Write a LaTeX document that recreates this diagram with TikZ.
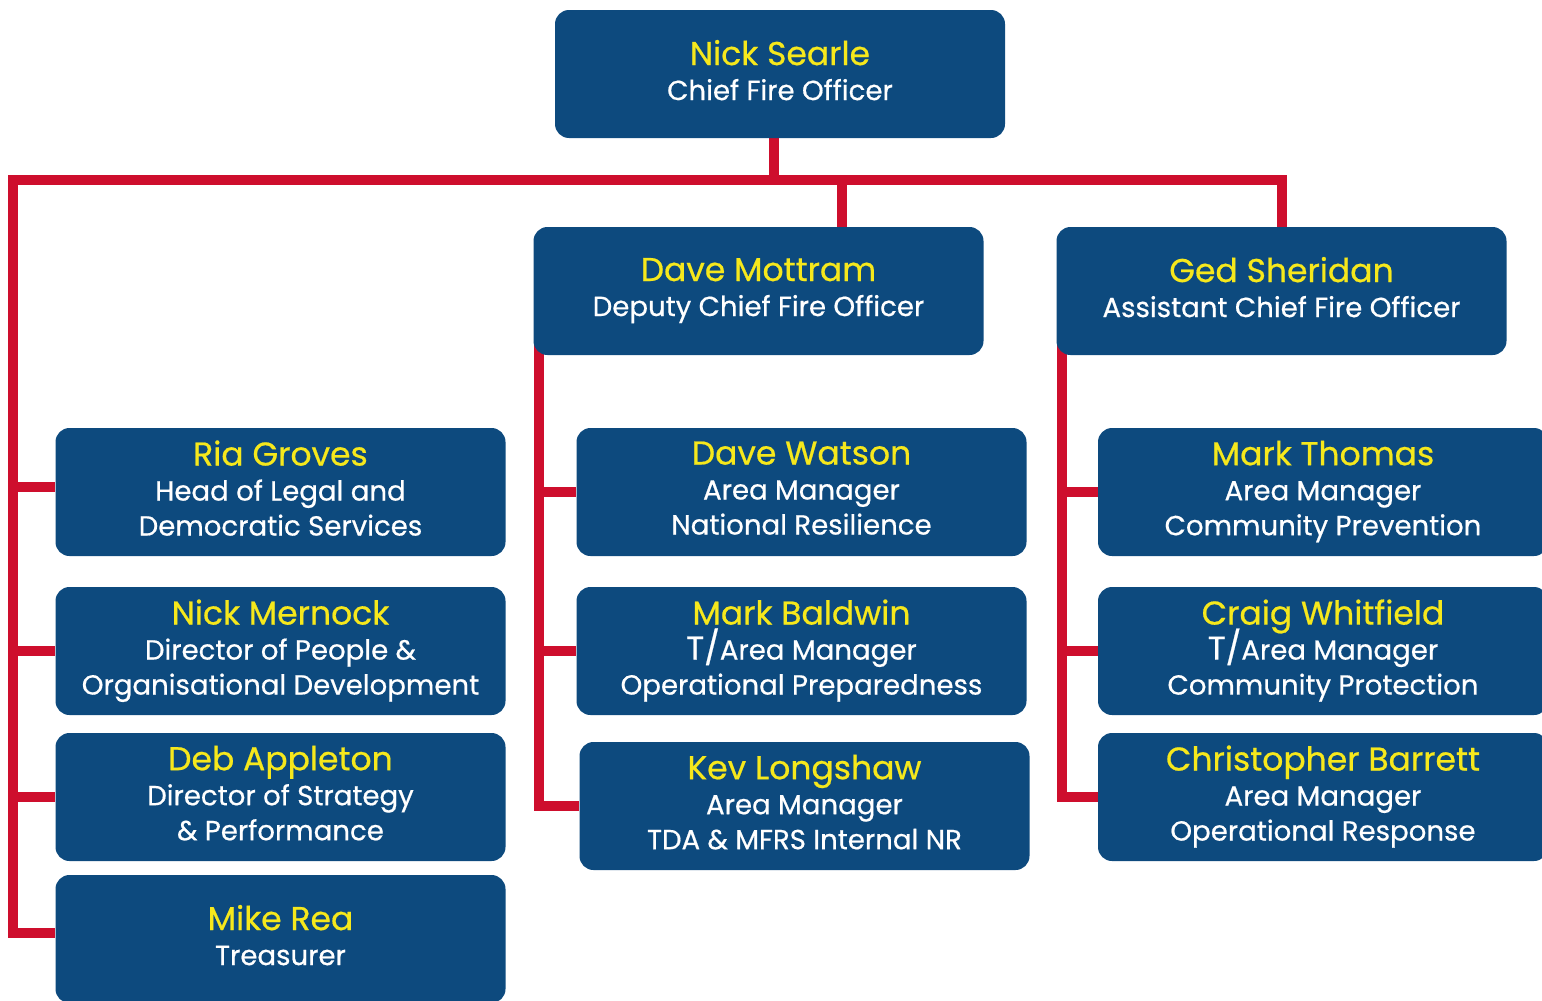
\documentclass[tikz,border=0pt]{standalone}
\usepackage{fontspec}
\setmainfont{Poppins}[FakeBold=0.6]
\usetikzlibrary{backgrounds}

\definecolor{postblue}{RGB}{13,74,126}
\definecolor{linkred}{RGB}{206,14,45}
\definecolor{nameyellow}{RGB}{246,232,28}

\newcommand{\who}[2]{{\color{nameyellow}\fontsize{16.5}{17.5}\selectfont #1}\\#2}
\newcommand{\acting}{{\fontsize{16.5}{17.5}\selectfont\smash{T/}}}

\begin{document}
\begin{tikzpicture}[x = 0.5pt, y = -0.5pt,
								post/.style = {rectangle, rounded corners = 7pt, fill = 
								postblue, text = white, inner sep = 0pt, align = center,
								minimum width = 225pt, minimum height = 64pt, text depth = 4pt,
								font = \fontsize{13.8}{17.5}\selectfont},
								link/.style = {draw = linkred, line width = 5pt, line join = miter}]

				\useasboundingbox (0,0) rectangle (1542,1001);

				\node [post] (c_1) at (780,74) {\who{Nick Searle}{Chief Fire Officer}};
				\node [post] (d_1) at (758.5,291) {\who{Dave Mottram}{Deputy Chief Fire Officer}};
				\node [post] (d_2) at (1281.5,291) {\who{Ged Sheridan}{Assistant Chief Fire Officer}};

				\node [post] (l_1) at (280.5,492) {\who{Ria Groves}{Head of Legal and\\Democratic Services}};
				\node [post] (l_2) at (280.5,651) {\who{Nick Mernock}{Director of People \&\\Organisational Development}};
				\node [post] (l_3) at (280.5,797) {\who{Deb Appleton}{Director of Strategy\\\& Performance}};
				\node [post] (l_4) at (280.5,939) {\who{Mike Rea}{Treasurer}};

				\node [post] (m_1) at (801.5,492) {\who{Dave Watson}{Area Manager\\National Resilience}};
				\node [post] (m_2) at (801.5,651) {\who{Mark Baldwin}{\acting Area Manager\\Operational Preparedness}};
				\node [post] (m_3) at (804.5,806) {\who{Kev Longshaw}{Area Manager\\TDA \& MFRS Internal NR}};

				\node [post] (r_1) at (1323,492) {\who{Mark Thomas}{Area Manager\\Community Prevention}};
				\node [post] (r_2) at (1323,651) {\who{Craig Whitfield}{\acting Area Manager\\Community Protection}};
				\node [post] (r_3) at (1323,797) {\who{Christopher Barrett}{Area Manager\\Operational Response}};

				\begin{scope}[on background layer]
				\draw [link] (774,0 |- c_1.south) -- (774,180);
				\draw [link] (l_4.west |- 0,933) -- (13,933) -- (13,180) -- (1281.5,180) -- (d_2.north);
				\draw [link] (842,180) -- (842,0 |- d_1.north);
				\draw [link] (539,340) -- (539,806) -- (m_3.west |- 0,806);
				\draw [link] (1062,340) -- (1062,797) -- (r_3.west);

				\foreach \n/\y in {l_1/487, l_2/651, l_3/797}
					\draw [link] (13,\y) -- (\n.west |- 0,\y);
				\foreach \n in {m_1, m_2}
					\draw [link] (539,0 |- \n.west) -- (\n.west);
				\foreach \n in {r_1, r_2}
					\draw [link] (1062,0 |- \n.west) -- (\n.west);
				\end{scope}
			\end{tikzpicture}
\end{document}
